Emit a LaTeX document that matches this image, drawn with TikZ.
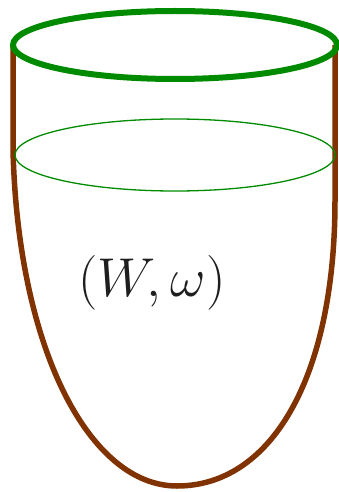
\documentclass[tikz,border=0pt]{standalone}
\definecolor{cupbrown}{RGB}{128,50,0}
\definecolor{rimgreen}{RGB}{0,138,0}
\definecolor{txt}{RGB}{30,30,30}
\begin{document}
\begin{tikzpicture}[x=1pt,y=-1pt,
  cup/.style={draw=cupbrown,line width=5.5pt,line join=round},
  rim/.style={draw=rimgreen,line width=6pt},
  level/.style={draw=rimgreen,line width=1.3pt}]
\useasboundingbox (0,0) rectangle (338,492);
\coordinate (tl) at (13,45);
\coordinate (tr) at (335,45);
\coordinate (bot) at (177,486);
\draw[cup] (tl) -- (13,150) .. controls (18,350) and (90,486) .. (bot)
  .. controls (270,486) and (335,380) .. (335,200) -- (tr);
\draw[level] (175,155) ellipse [x radius=160, y radius=36];
\draw[rim] (175,45) ellipse [x radius=162, y radius=34];
\node[text=txt,font=\Huge,scale=2.2] (lab) at (152,283) {$(W,\omega)$};
\end{tikzpicture}
\end{document}
